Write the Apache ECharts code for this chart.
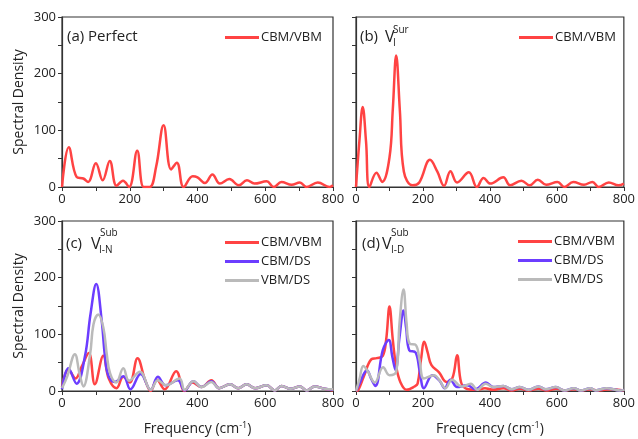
<!DOCTYPE html>
<html>
<head>
<meta charset="utf-8">
<script src="https://cdn.jsdelivr.net/npm/echarts@6/dist/echarts.min.js"></script>
<style>
  html, body { margin: 0; padding: 0; background: #fff; }
  #chart { width: 638px; height: 439px; }
</style>
</head>
<body>
<div id="chart"></div>
<script>
// spectral density, [frequency (cm-1), value]
var perfectCbmVbm = [[0,0],[20,70],[43,18],[63,15],[77,9],[100,42],[120,12],[141,46],[161,2],[180,11],[198,0],[222,64],[241,0],[259,0],[278,36],[300,109],[322,31],[339,43],[359,0],[386,19],[400,17],[422,7],[444,22],[466,6],[494,14],[522,3],[546,12],[568,6],[604,10],[625,0],[648,9],[678,4],[702,8],[722,0],[755,8],[790,0],[800,3]];

var surCbmVbm = [[0,0],[10,80],[20,141],[30,80],[40,0],[61,25],[78,9],[100,52],[110,138],[120,232],[131,135],[143,27],[169,3],[189,8],[221,48],[243,27],[263,2],[282,28],[302,8],[337,26],[361,0],[381,16],[401,6],[440,17],[460,3],[494,11],[519,3],[543,13],[568,4],[602,9],[622,0],[649,9],[681,4],[706,9],[725,0],[755,8],[784,3],[800,6]];

var subNCbmVbm = [[0,7],[19,38],[40,22],[58,43],[79,67],[97,12],[122,62],[138,22],[161,5],[181,25],[200,15],[223,58],[245,20],[262,0],[280,20],[303,3],[337,35],[362,0],[385,15],[412,7],[441,19],[464,5],[496,12],[520,5],[545,12],[570,5],[604,10],[628,1],[648,9],[675,4],[702,8],[722,1],[746,8],[775,4],[800,1]];
var subNCbmDs = [[0,3],[19,40],[43,13],[68,62],[84,135],[101,189],[117,125],[127,60],[137,27],[156,16],[181,26],[202,3],[232,30],[262,2],[283,25],[306,10],[342,19],[362,1],[388,17],[412,7],[441,17],[464,5],[496,12],[520,5],[545,12],[570,5],[604,10],[628,1],[648,9],[675,4],[702,8],[722,1],[746,8],[775,4],[800,2]];
var subNVbmDs = [[0,5],[15,25],[38,65],[52,30],[63,8],[83,65],[93,118],[107,135],[122,112],[132,66],[142,31],[160,15],[181,40],[198,18],[230,34],[262,2],[283,19],[308,10],[347,22],[362,2],[388,17],[412,7],[441,16],[464,5],[496,12],[520,5],[545,12],[570,5],[604,10],[628,1],[648,9],[675,4],[702,8],[722,1],[746,8],[775,4],[800,3]];

var subDCbmVbm = [[0,0],[7,2],[23,25],[46,56],[62,58],[80,62],[90,90],[100,149],[110,90],[120,43],[133,15],[151,2],[175,8],[184,13],[194,55],[204,87],[214,68],[225,46],[248,33],[270,16],[288,23],[302,63],[314,15],[330,4],[360,2],[385,5],[410,2],[440,5],[465,1],[490,4],[515,1],[545,4],[570,1],[600,4],[625,1],[650,3],[675,1],[700,3],[725,1],[760,3],[800,1]];
var subDCbmDs = [[0,0],[12,15],[25,32],[33,36],[45,22],[58,9],[80,72],[98,90],[108,62],[118,37],[130,95],[142,142],[150,110],[159,72],[178,68],[190,36],[203,5],[228,28],[250,18],[265,5],[282,20],[302,7],[332,10],[357,3],[388,15],[410,7],[440,9],[465,3],[489,7],[515,2],[545,8],[567,3],[597,7],[622,1],[651,5],[671,1],[700,5],[715,1],[749,5],[788,1],[800,2]];
var subDVbmDs = [[0,0],[10,20],[22,44],[35,35],[56,15],[81,42],[100,28],[120,34],[130,120],[142,179],[151,120],[160,84],[179,81],[190,54],[203,22],[233,28],[250,18],[267,5],[287,20],[316,8],[343,13],[362,2],[387,13],[410,7],[440,9],[465,3],[489,7],[515,2],[545,8],[567,3],[597,7],[622,1],[651,5],[671,1],[700,5],[715,1],[749,5],[788,1],[800,2]];

var xTicks = [0, 200, 400, 600, 800];
var yTicks = [0, 100, 200, 300];

var FONT = '"Open Sans", "Noto Sans", sans-serif';
var RED = '#ff4343', BLUE = '#6c3dff', GRAY = '#bababa';

var grids = [
  {left: 62, top: 17, width: 271, height: 170},
  {left: 356, top: 17, width: 271, height: 170},
  {left: 62, top: 221, width: 271, height: 170},
  {left: 356, top: 221, width: 271, height: 170}
];
grids.forEach(function (g) { g.show = true; g.borderColor = '#333'; g.borderWidth = 1.2; g.backgroundColor = 'transparent'; });

function xAxis(i) {
  var ax = {
    type: 'value', gridIndex: i, min: 0, max: 800, interval: 100,
    axisLine: {lineStyle: {color: '#333', width: 1.2}},
    axisTick: {length: 4, lineStyle: {color: '#333'}},
    splitLine: {show: false},
    axisLabel: {
      fontFamily: FONT, fontSize: 13, color: '#222', margin: 6,
      formatter: function (v) { return xTicks.indexOf(v) >= 0 ? String(v) : ''; }
    }
  };
  if (i >= 2) {
    ax.name = 'Frequency (cm{sup|-1})';
    ax.nameLocation = 'middle';
    ax.nameGap = 30;
    ax.nameTextStyle = {fontFamily: FONT, fontSize: 14, color: '#222',
      rich: {sup: {fontFamily: FONT, fontSize: 9, color: '#222', padding: [0, 0, 8, 0]}}};
  }
  return ax;
}

function yAxis(i) {
  var showLabel = (i % 2 === 0);
  var ax = {
    type: 'value', gridIndex: i, min: 0, max: 300, interval: 50,
    axisLine: {show: true, lineStyle: {color: '#333', width: 1.2}},
    axisTick: {show: true, length: 4, lineStyle: {color: '#333'}},
    splitLine: {show: false},
    axisLabel: {
      show: showLabel, fontFamily: FONT, fontSize: 13, color: '#222', margin: 6,
      formatter: function (v) { return yTicks.indexOf(v) >= 0 ? String(v) : ''; }
    }
  };
  if (showLabel) {
    ax.name = 'Spectral Density';
    ax.nameLocation = 'middle';
    ax.nameGap = 36;
    ax.nameTextStyle = {fontFamily: FONT, fontSize: 14, color: '#222'};
  }
  return ax;
}

function line(name, data, color, i) {
  return {
    name: name, type: 'line', data: data, xAxisIndex: i, yAxisIndex: i,
    smooth: 0.4, symbol: 'none', clip: true,
    lineStyle: {color: color, width: 2.5},
    itemStyle: {color: color}
  };
}

function legend(left, top, names) {
  return {
    orient: 'vertical', left: left, top: top, data: names,
    icon: 'rect', itemWidth: 34, itemHeight: 3, itemGap: 6, padding: 0,
    textStyle: {fontFamily: FONT, fontSize: 13, color: '#222', padding: [0, 0, 0, -3]},
    selectedMode: false
  };
}

function txt(left, top, text, size) {
  return {type: 'text', left: left, top: top, z: 10,
    style: {text: text, font: size + 'px ' + FONT, fill: '#222'}};
}

var option = {
  animation: false,
  backgroundColor: '#fff',
  grid: grids,
  xAxis: [0, 1, 2, 3].map(xAxis),
  yAxis: [0, 1, 2, 3].map(yAxis),
  legend: [
    legend(225, 31, ['CBM/VBM']),
    legend(519, 31, ['CBM/VBM']),
    legend(225, 236, ['CBM/VBM', 'CBM/DS', 'VBM/DS']),
    legend(518, 235, ['CBM/VBM', 'CBM/DS', 'VBM/DS'])
  ],
  graphic: [
    txt(67, 29, '(a) Perfect', 15),
    txt(360, 29, '(b)', 15), txt(385, 29, 'V', 16), txt(393, 25, 'Sur', 10), txt(393, 38, 'I', 10),
    txt(66, 236, '(c)', 15), txt(91, 236, 'V', 16), txt(100, 228, 'Sub', 10), txt(99, 245, 'I-N', 10),
    txt(362, 236, '(d)', 15), txt(382, 236, 'V', 16), txt(391, 228, 'Sub', 10), txt(391, 245, 'I-D', 10)
  ],
  series: [
    line('CBM/VBM', perfectCbmVbm, RED, 0),
    line('CBM/VBM', surCbmVbm, RED, 1),
    line('CBM/VBM', subNCbmVbm, RED, 2),
    line('CBM/DS', subNCbmDs, BLUE, 2),
    line('VBM/DS', subNVbmDs, GRAY, 2),
    line('CBM/VBM', subDCbmVbm, RED, 3),
    line('CBM/DS', subDCbmDs, BLUE, 3),
    line('VBM/DS', subDVbmDs, GRAY, 3)
  ]
};

var myChart = echarts.init(document.getElementById('chart'));
myChart.setOption(option);
</script>
</body>
</html>
